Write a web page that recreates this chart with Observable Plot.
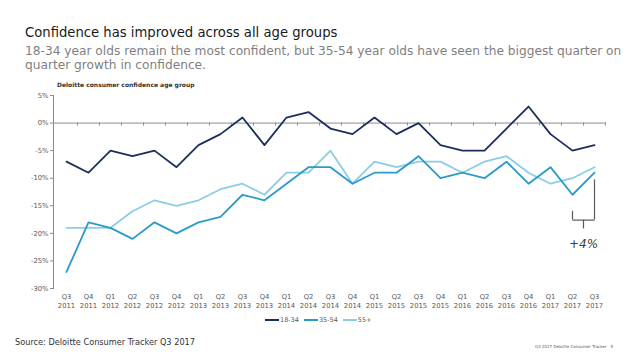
<!DOCTYPE html>
<html><head><meta charset="utf-8">
<script src="https://cdn.jsdelivr.net/npm/d3@7"></script>
<script src="https://cdn.jsdelivr.net/npm/@observablehq/plot@0.6"></script>
<style>
body{margin:0;width:638px;height:359px;overflow:hidden;background:#fff;font-family:"DejaVu Sans",Verdana,sans-serif;position:relative}
.abs{position:absolute;white-space:nowrap}
#title{left:25px;top:25px;font-size:13.2px;line-height:16px;color:#1a1a1a}
#subtitle{left:25px;top:43.5px;font-size:12.2px;line-height:14px;color:#7f7f7f}
#ctitle{left:57px;top:82px;font-size:6px;line-height:6px;font-weight:bold;color:#333}
#chart{left:0;top:80px}
#legend{left:265px;top:316px;display:flex;align-items:center;font-size:6.5px;color:#595959;line-height:8px}
#legend .sw{display:inline-block;width:14px;height:1.8px;margin-right:1px}
#legend .it{display:flex;align-items:center;margin-right:5px}
#source{left:15px;top:337px;font-size:8.2px;line-height:10px;color:#333}
#foot{left:535px;top:344px;font-size:4px;line-height:5px;color:#555}
</style></head>
<body>
<div id="title" class="abs">Confidence has improved across all age groups</div>
<div id="subtitle" class="abs">18-34 year olds remain the most confident, but 35-54 year olds have seen the biggest quarter on<br>quarter growth in confidence.</div>
<div id="ctitle" class="abs">Deloitte consumer confidence age group</div>
<div id="chart" class="abs"></div>
<div id="legend" class="abs"></div>
<div id="source" class="abs">Source: Deloitte Consumer Tracker Q3 2017</div>
<div id="foot" class="abs">Q3 2017 Deloitte Consumer Tracker &nbsp;&nbsp;5</div>
<script>
const quarters = ["Q3 2011","Q4 2011","Q1 2012","Q2 2012","Q3 2012","Q4 2012","Q1 2013","Q2 2013","Q3 2013","Q4 2013","Q1 2014","Q2 2014","Q3 2014","Q4 2014","Q1 2015","Q2 2015","Q3 2015","Q4 2015","Q1 2016","Q2 2016","Q3 2016","Q4 2016","Q1 2017","Q2 2017","Q3 2017"];
const s1834 = [-7,-9,-5,-6,-5,-8,-4,-2,1,-4,1,2,-1,-2,1,-2,0,-4,-5,-5,-1,3,-2,-5,-4];
const s3554 = [-27,-18,-19,-21,-18,-20,-18,-17,-13,-14,-11,-8,-8,-11,-9,-9,-6,-10,-9,-10,-7,-11,-8,-13,-9];
const s55 = [-19,-19,-19,-16,-14,-15,-14,-12,-11,-13,-9,-9,-5,-11,-7,-8,-7,-7,-9,-7,-6,-9,-11,-10,-8];
const seriesNames = ["18-34","35-54","55+"];
const seriesColors = ["#1B2F5E","#2B9ACB","#8CCDE6"];
const yTicks = [5,0,-5,-10,-15,-20,-25,-30];
const bracket = [{q1:"Q2 2017", q2:"Q3 2017", top:-10.3, arm:-16, base:-17.6, stem:-19.2, label:"+4%", labelY:-21.9}];

const seriesValues = [s1834, s3554, s55];
const data = [];
// draw order: 55+, 35-54, 18-34
[2,1,0].forEach(k => seriesValues[k].forEach((v,i) => data.push({q: quarters[i], v, s: seriesNames[k]})));

const axisGray = "#8c8c8c";
const bracketColor = "#595959";
const chart = Plot.plot({
  width: 638, height: 232,
  marginTop: 15, marginBottom: 24, marginLeft: 53, marginRight: 32,
  style: {fontFamily: '"DejaVu Sans", Verdana, sans-serif', background: "transparent", color: "#595959", overflow: "visible"},
  x: {type: "point", domain: quarters, padding: 0.5, label: null},
  y: {domain: [-30, 5], label: null},
  color: {domain: seriesNames, range: seriesColors},
  marks: [
    Plot.frame({anchor: "left", stroke: axisGray}),
    Plot.ruleY([0], {stroke: axisGray}),
    Plot.ruleX(quarters, {x: d => d, y1: 0, y2: -0.55, dx: 11, stroke: axisGray}),
    Plot.axisY({ticks: yTicks, tickFormat: d => d + "%", tickSize: 3, tickPadding: 2, fontSize: 6.8, stroke: axisGray, fill: "#595959"}),
    Plot.axisX({tickSize: 0, tickPadding: 4, tickFormat: q => q.replace(" ", "\n"), fontSize: 6.8, lineHeight: 1.35, fill: "#595959"}),
    Plot.line(data, {x: "q", y: "v", z: "s", stroke: "s", strokeWidth: 1.8}),
    Plot.ruleX(bracket, {x: "q2", y1: "top", y2: "base", stroke: bracketColor, strokeWidth: 1.2}),
    Plot.ruleX(bracket, {x: "q1", y1: "arm", y2: "base", stroke: bracketColor, strokeWidth: 1.2}),
    Plot.link(bracket, {x1: "q1", x2: "q2", y1: "base", y2: "base", stroke: bracketColor, strokeWidth: 1.2}),
    Plot.ruleX(bracket, {x: "q2", dx: -11, y1: "base", y2: "stem", stroke: bracketColor, strokeWidth: 1.2}),
    Plot.text(bracket, {x: "q2", dx: -11, y: "labelY", text: "label", fontStyle: "italic", fontSize: 12, fill: "#404040"})
  ]
});
document.getElementById("chart").appendChild(chart);

const legend = document.getElementById("legend");
seriesNames.forEach((name, k) => {
  const it = document.createElement("span");
  it.className = "it";
  const sw = document.createElement("span");
  sw.className = "sw";
  sw.style.background = seriesColors[k];
  it.appendChild(sw);
  it.appendChild(document.createTextNode(name));
  legend.appendChild(it);
});
</script>
</body></html>
